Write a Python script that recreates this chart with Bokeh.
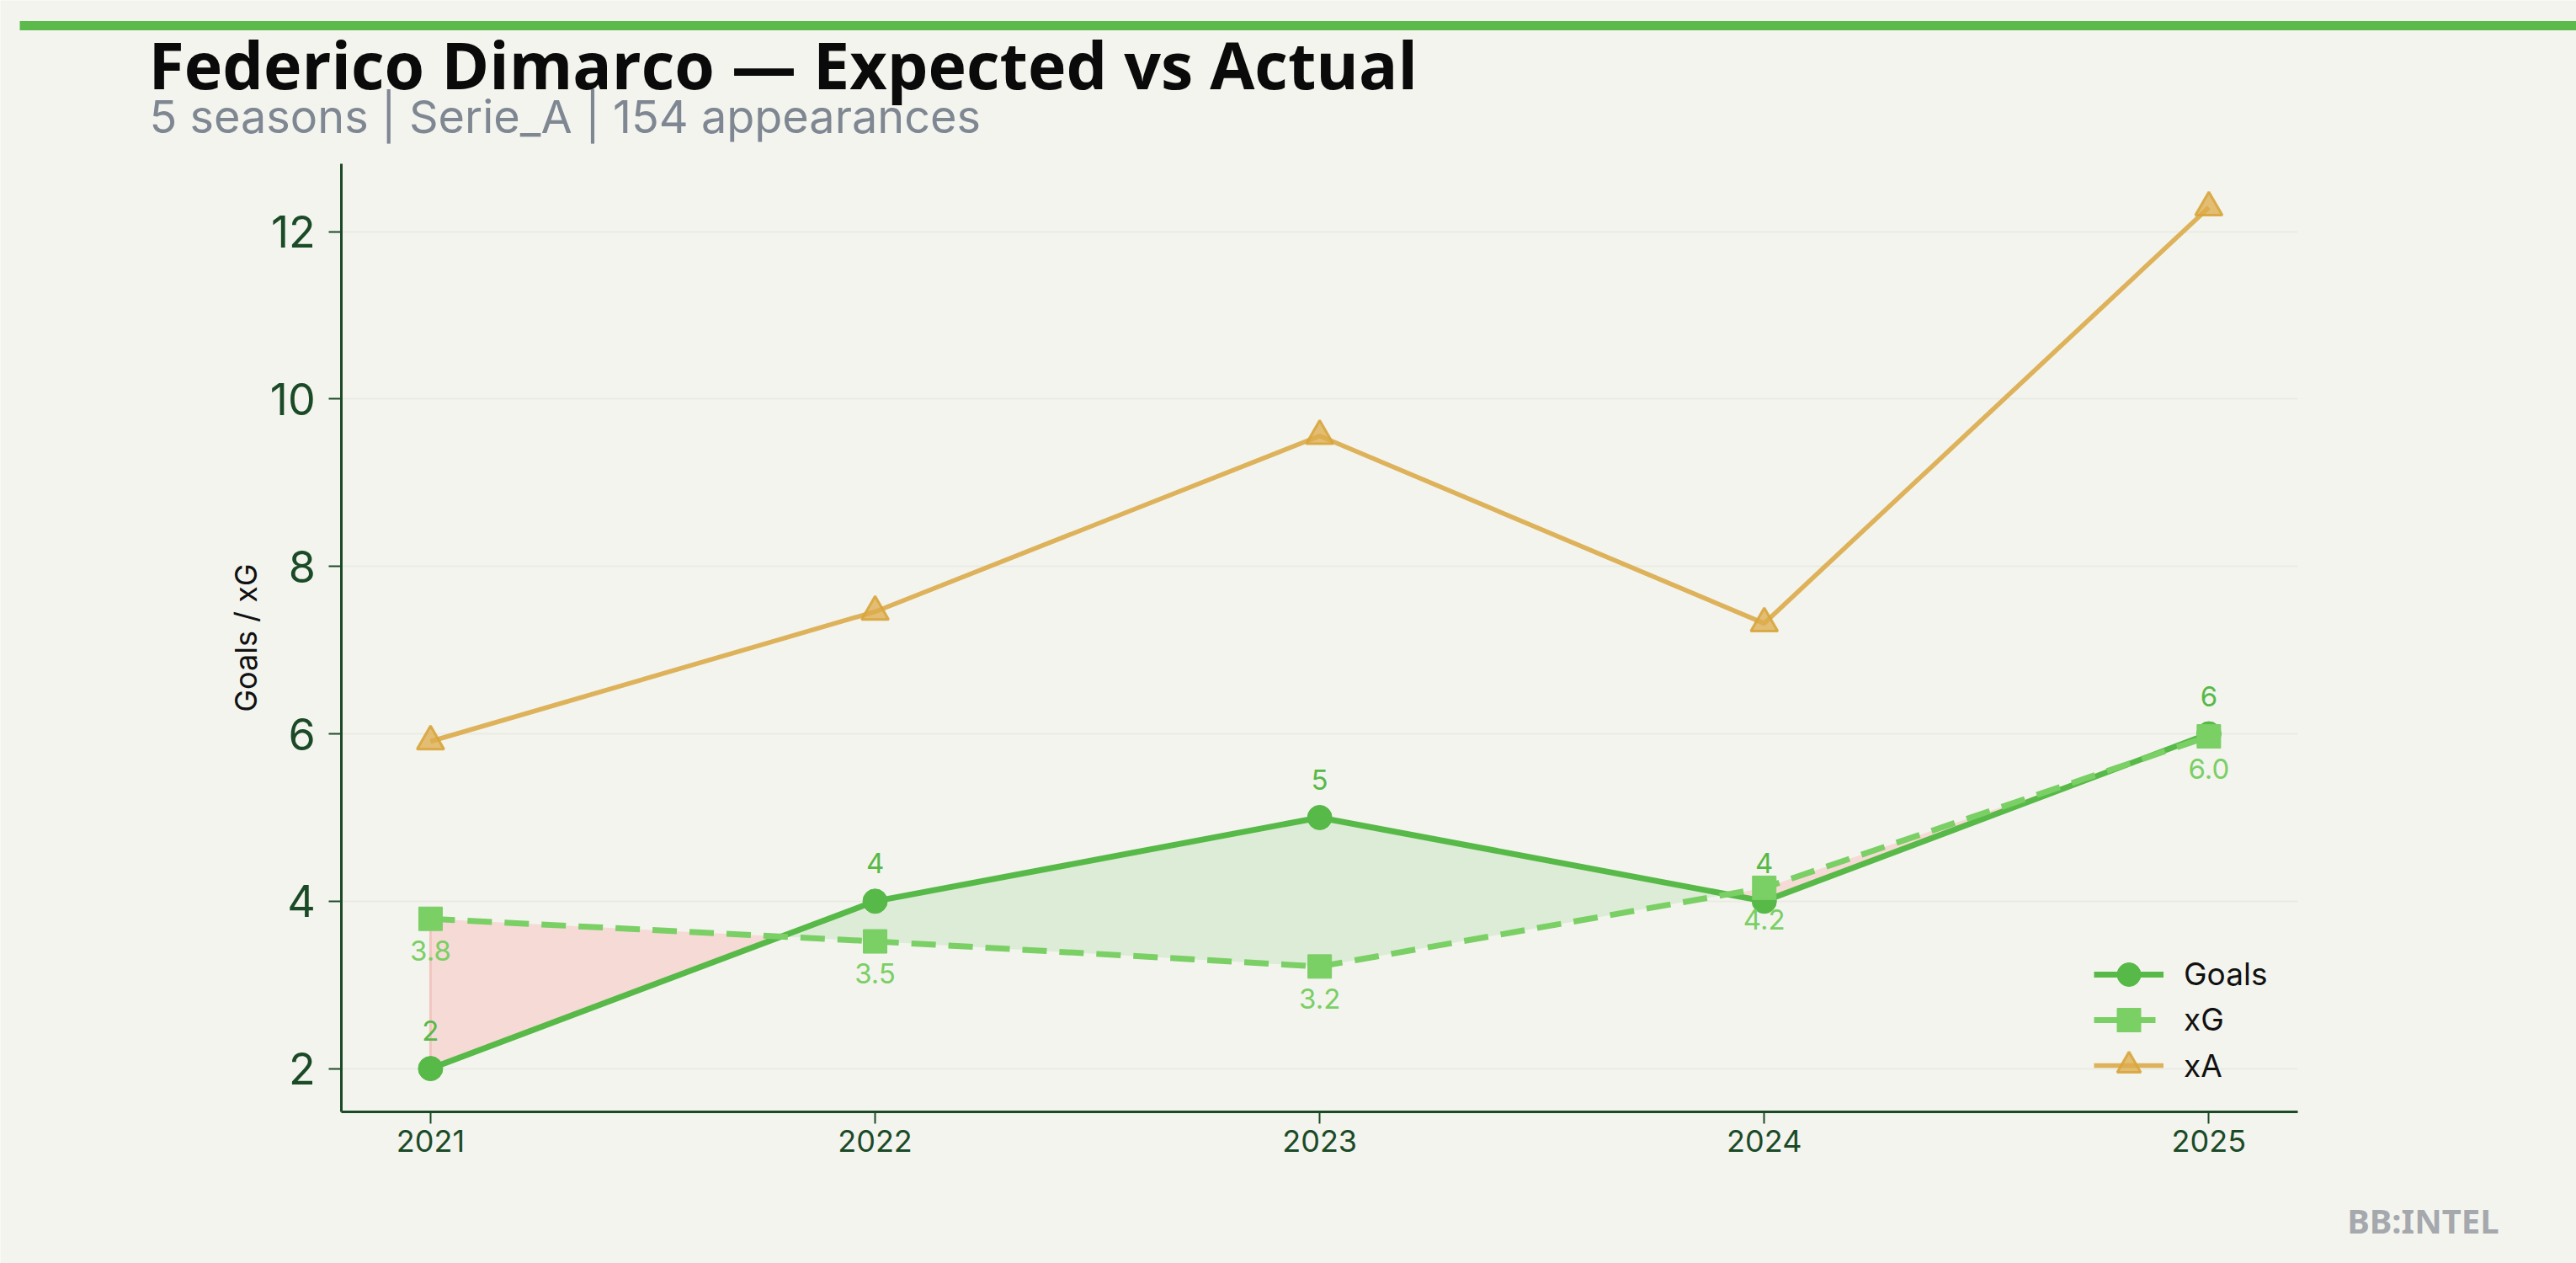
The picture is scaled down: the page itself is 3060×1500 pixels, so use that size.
from bokeh.plotting import figure
from bokeh.models import (Range1d, FixedTicker, Legend, LegendItem, ColumnDataSource,
                          Label, BoxAnnotation, LinearAxis, Grid)
from bokeh.embed import file_html
from bokeh.resources import INLINE
from bokeh.core.properties import value
import numpy as np

# ---- data ----
seasons = [2021, 2022, 2023, 2024, 2025]
goals = [2, 4, 5, 4, 6]
xg = [3.79, 3.52, 3.22, 4.16, 5.97]
xa = [5.91, 7.46, 9.56, 7.32, 12.29]
y_ticks = [2, 4, 6, 8, 10, 12]
title_text = "Federico Dimarco \u2014 Expected vs Actual"
subtitle_text = "5 seasons | Serie_A | 154 appearances"
y_label = "Goals / xG"
watermark = "BB:INTEL"
series_names = ["Goals", "xG", "xA"]

# ---- style ----
BG = "#f3f4ee"
C_GOALS = "#57b947"
C_XG = "#7acf65"
C_XA = "#dcab4a"
AXIS_C = "#1b4a27"
FONT = "Inter"

# ---- layout geometry (canvas pixels; the page template has no body margin) ----
W, H = 3060, 1500
PLOT_L, PLOT_R, PLOT_T, PLOT_B = 405.3, 2729.0, 193.7, 1319.8
XLIM = (2020.8, 2025.2)
YLIM = (1.485, 12.815)
kx = (PLOT_R - PLOT_L) / (XLIM[1] - XLIM[0])
ky = (PLOT_B - PLOT_T) / (YLIM[1] - YLIM[0])
x0 = XLIM[0] - PLOT_L / kx
x1 = XLIM[1] + (W - PLOT_R) / kx
y1 = YLIM[1] + PLOT_T / ky
y0 = YLIM[0] - (H - PLOT_B) / ky


def px_x(px):
    return x0 + px / kx


def px_y(py):
    return y1 - py / ky


p = figure(width=W, height=H, output_backend="svg", toolbar_location=None,
           x_range=Range1d(x0, x1), y_range=Range1d(y0, y1),
           x_axis_location=None, y_axis_location=None, title_location=None,
           min_border=0)
p.background_fill_color = BG
p.border_fill_color = BG
p.outline_line_color = None
p.center = [r for r in p.center if not isinstance(r, Grid)]

# ---- axes (spines only left/bottom, fixed at the plot-area edges) ----
yaxis = LinearAxis(fixed_location=XLIM[0], bounds=YLIM, ticker=FixedTicker(ticks=y_ticks))
xaxis = LinearAxis(fixed_location=YLIM[0], bounds=XLIM, ticker=FixedTicker(ticks=seasons))
for ax in (xaxis, yaxis):
    ax.axis_line_color = AXIS_C
    ax.axis_line_width = 3
    ax.major_tick_line_color = AXIS_C
    ax.major_tick_line_width = 2
    ax.major_tick_in = 0
    ax.minor_tick_line_color = None
    ax.major_label_text_color = AXIS_C
    ax.major_label_text_font = FONT
xaxis.major_tick_out = 14
yaxis.major_tick_out = 15
xaxis.major_label_text_font_size = "36px"
yaxis.major_label_text_font_size = "52px"
xaxis.major_label_standoff = 8
yaxis.major_label_standoff = 16
yaxis.axis_label = y_label
yaxis.axis_label_text_font = FONT
yaxis.axis_label_text_font_size = "36px"
yaxis.axis_label_text_font_style = "normal"
yaxis.axis_label_text_color = "#111111"
yaxis.axis_label_standoff = 4
p.add_layout(yaxis, "left")
p.add_layout(xaxis, "below")

if "cross_bounds" in Grid.properties():
    ygrid = Grid(dimension=1, ticker=FixedTicker(ticks=y_ticks), bounds=YLIM, cross_bounds=XLIM,
                 grid_line_color="#e9ebe3", grid_line_width=2)
    p.add_layout(ygrid)

# ---- fill between goals and xG (with crossing points) ----
xs = np.array(seasons, float)
g = np.array(goals, float)
e = np.array(xg, float)
fx, fg, fe = [xs[0]], [g[0]], [e[0]]
for i in range(len(xs) - 1):
    d0 = g[i] - e[i]
    d1 = g[i + 1] - e[i + 1]
    if d0 * d1 < 0:
        t = d0 / (d0 - d1)
        xc = xs[i] + t * (xs[i + 1] - xs[i])
        yc = g[i] + t * (g[i + 1] - g[i])
        fx.append(xc); fg.append(yc); fe.append(yc)
    fx.append(xs[i + 1]); fg.append(g[i + 1]); fe.append(e[i + 1])
fx = np.array(fx); fg = np.array(fg); fe = np.array(fe)
top = np.maximum(fg, fe)
p.varea(x=fx, y1=fe, y2=top, fill_color="#dcecd6", fill_alpha=1.0)
p.varea(x=fx, y1=fg, y2=top, fill_color="#f6dad5", fill_alpha=1.0)
# edge of the "xG above goals" region at the first season
p.segment(x0=fx[:1], y0=fg[:1], x1=fx[:1], y1=top[:1], line_color="#f2c6c0", line_width=3)

# ---- series ----
src = ColumnDataSource(dict(x=seasons, goals=goals, xg=xg, xa=xa,
                            gl=[str(int(v)) for v in goals],
                            el=[f"{v:.1f}" for v in xg]))

xa_line = p.line("x", "xa", source=src, line_color=C_XA, line_width=5.5, line_alpha=0.9)
xa_pts = p.scatter("x", "xa", source=src, marker="triangle", size=32,
                   fill_color=C_XA, fill_alpha=0.75, line_color="#d8a53c", line_alpha=0.9, line_width=3)

g_line = p.line("x", "goals", source=src, line_color=C_GOALS, line_width=7)
g_pts = p.scatter("x", "goals", source=src, marker="circle", size=29,
                  fill_color=C_GOALS, line_color=C_GOALS)

e_line = p.line("x", "xg", source=src, line_color=C_XG, line_width=7, line_dash="29 15")
e_pts = p.scatter("x", "xg", source=src, marker="square", size=28,
                  fill_color=C_XG, line_color=C_XG)

p.text("x", "goals", text="gl", source=src, text_font=value(FONT), text_font_size="33px",
       text_color=C_GOALS, text_align="center", text_baseline="alphabetic", y_offset=-45)
p.text("x", "xg", text="el", source=src, text_font=value(FONT), text_font_size="33px",
       text_color=C_XG, text_align="center", text_baseline="alphabetic", y_offset=38)

# one legend per row, so markers can be full size at the reference row pitch
legend_rows = [(series_names[0], [g_line, g_pts], 1156.5),
               (series_names[1], [e_line, e_pts], 1210.5),
               (series_names[2], [xa_line, xa_pts], 1265.0)]
for name, rends, cy in legend_rows:
    lg = Legend(items=[LegendItem(label=name, renderers=rends)],
                location=(2487, H - (cy + 35)), padding=0, margin=0, spacing=0,
                glyph_width=83, glyph_height=70, label_height=70, label_standoff=24,
                label_text_font=FONT, label_text_font_size="37px", label_text_color="#111111",
                label_text_baseline="middle",
                background_fill_alpha=0, border_line_alpha=0)
    p.add_layout(lg)

# ---- header / footer ----
p.add_layout(BoxAnnotation(left=px_x(23), right=px_x(W), top=px_y(24.5), bottom=px_y(35.5),
                           fill_color="#5cb94c", fill_alpha=1.0, line_alpha=0))
p.add_layout(Label(x=px_x(176), y=px_y(76), text=title_text,
                   text_font="Open Sans", text_font_size="77px", text_font_style="bold",
                   text_color="#0a0a0a", text_align="left", text_baseline="alphabetic"))
p.add_layout(Label(x=px_x(177), y=px_y(138), text=subtitle_text,
                   text_font=FONT, text_font_size="54px",
                   text_color="#7f8792", text_align="left", text_baseline="alphabetic"))
p.add_layout(Label(x=px_x(2968), y=px_y(1449), text=watermark,
                   text_font="Noto Sans", text_font_size="40px", text_font_style="bold",
                   text_color="#a5a8ad", text_align="right", text_baseline="alphabetic"))

html = file_html(p, INLINE)
html = html.replace("<body>", '<body style="background:%s;">' % BG, 1)
open("out.html", "w").write(html)
